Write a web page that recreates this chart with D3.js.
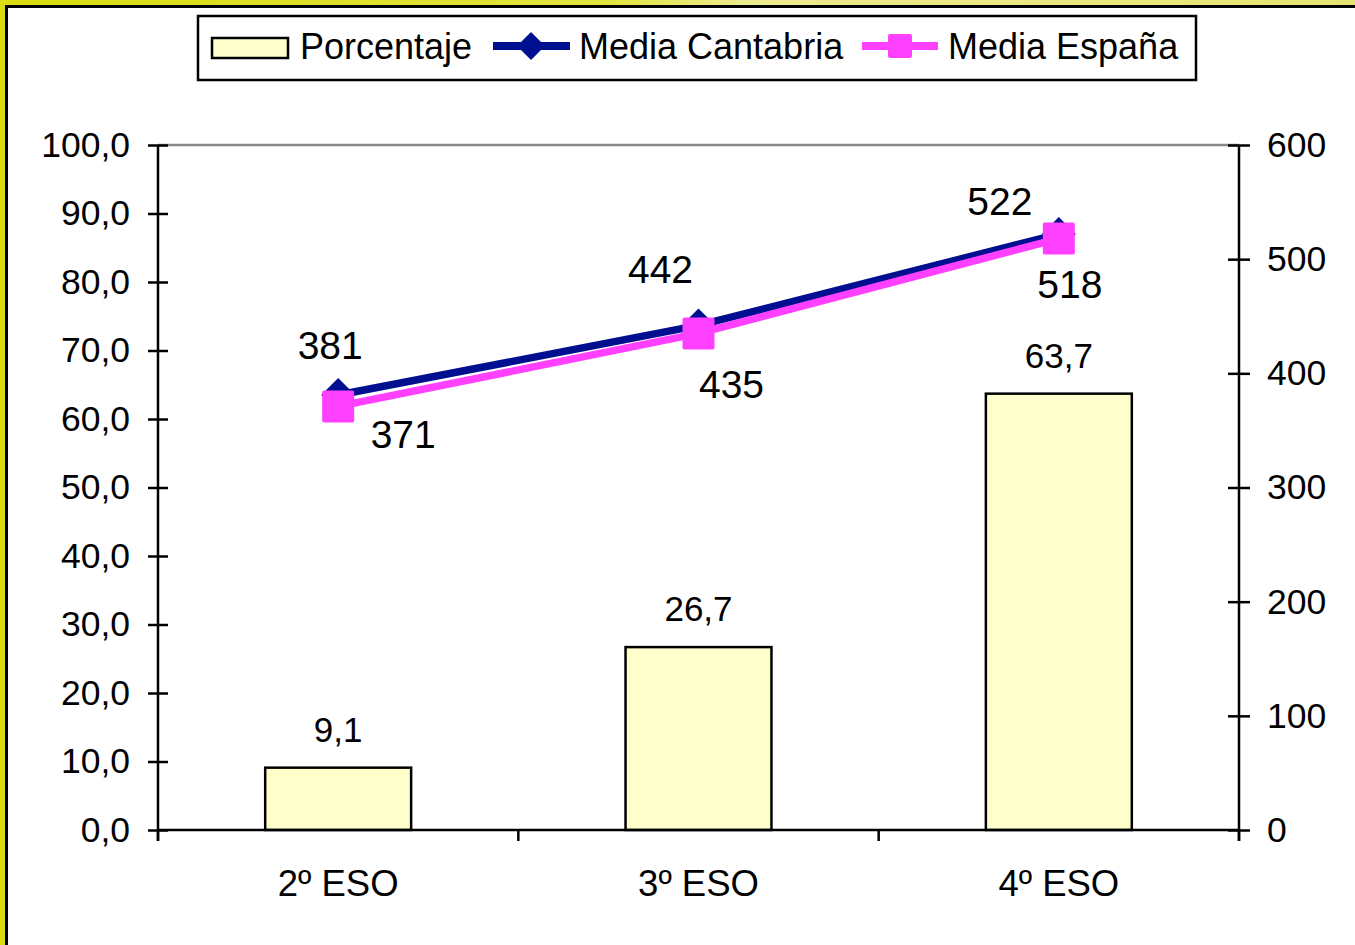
<!DOCTYPE html>
<html>
<head>
<meta charset="utf-8">
<script src="https://cdn.jsdelivr.net/npm/d3@7/dist/d3.min.js"></script>
<style>
  html, body { margin: 0; padding: 0; background: #fff; }
  svg { display: block; font-family: "Liberation Sans", Arial, sans-serif; }
</style>
</head>
<body>
<svg id="chart" width="1355" height="945"></svg>
<script>
// ---- data ----
const categories = ["2º ESO", "3º ESO", "4º ESO"];
const porcentaje = [9.1, 26.7, 63.7];
const mediaCantabria = [381, 442, 522];
const mediaEspana = [371, 435, 518];
const leftTicks = [0, 10, 20, 30, 40, 50, 60, 70, 80, 90, 100];
const rightTicks = [0, 100, 200, 300, 400, 500, 600];
const seriesNames = ["Porcentaje", "Media Cantabria", "Media España"];

// ---- layout ----
const W = 1355, H = 945;
const plot = { left: 158, right: 1239, top: 145, bottom: 830 };
const colNavy = "#000f8f", colMag = "#ff40ff", colBar = "#ffffcc";
// label offsets (layout only)
const cantLabelOff = [[-8, -36], [-38, -42], [-59, -19]];
const espLabelOff = [[65, 42], [33, 65], [11, 59]];

const svg = d3.select("#chart");

// background frame
const defs = svg.append("defs");
const grad = defs.append("linearGradient").attr("id", "yel").attr("x1", 0).attr("y1", 0).attr("x2", 1).attr("y2", 0);
grad.append("stop").attr("offset", "0%").attr("stop-color", "#d8dc10");
grad.append("stop").attr("offset", "45%").attr("stop-color", "#e2e440");
grad.append("stop").attr("offset", "55%").attr("stop-color", "#ecec90");
grad.append("stop").attr("offset", "100%").attr("stop-color", "#e6e470");
svg.append("rect").attr("x", 0).attr("y", 0).attr("width", W).attr("height", H).attr("fill", "url(#yel)");
svg.append("rect").attr("x", 6.5).attr("y", 6.5).attr("width", W + 20).attr("height", H + 20)
  .attr("fill", "#fff").attr("stroke", "#000").attr("stroke-width", 3);

// scales
const x = d3.scaleBand().domain(categories).range([plot.left, plot.right]).paddingInner(0).paddingOuter(0);
const yL = d3.scaleLinear().domain([0, 100]).range([plot.bottom, plot.top]);
const yR = d3.scaleLinear().domain([0, 600]).range([plot.bottom, plot.top]);
const cx = d => x(d) + x.bandwidth() / 2;
const barW = x.bandwidth() * 0.405;

// top plot border (gray)
svg.append("line").attr("x1", plot.left).attr("x2", plot.right).attr("y1", plot.top).attr("y2", plot.top)
  .attr("stroke", "#888").attr("stroke-width", 2.5);

// bars
svg.append("g").selectAll("rect").data(porcentaje).join("rect")
  .attr("x", (d, i) => cx(categories[i]) - barW / 2)
  .attr("y", d => yL(d))
  .attr("width", barW)
  .attr("height", d => yL(0) - yL(d))
  .attr("fill", colBar).attr("stroke", "#000").attr("stroke-width", 2.5);

// bar labels
svg.append("g").selectAll("text").data(porcentaje).join("text")
  .attr("x", (d, i) => cx(categories[i]))
  .attr("y", d => yL(d) - 26)
  .attr("text-anchor", "middle").attr("font-size", 35).attr("fill", "#000")
  .text(d => d3.format(".1f")(d).replace(".", ","));

// left axis
const axL = d3.axisLeft(yL).tickValues(leftTicks).tickSize(0)
  .tickFormat(d => d3.format(".1f")(d).replace(".", ","));
const gL = svg.append("g").attr("transform", `translate(${plot.left},0)`).call(axL);
gL.select(".domain").attr("stroke", "#000").attr("stroke-width", 2.5);
gL.selectAll(".tick text").attr("x", -28).attr("font-size", 35.5).attr("fill", "#000")
  .attr("font-family", "Liberation Sans, Arial, sans-serif");
gL.selectAll(".tick").append("line").attr("x1", -10).attr("x2", 10).attr("stroke", "#000").attr("stroke-width", 2.5);
gL.select(".domain").attr("d", `M0,${plot.top}V${plot.bottom + 11}`);

// right axis
const axR = d3.axisRight(yR).tickValues(rightTicks).tickSize(0);
const gR = svg.append("g").attr("transform", `translate(${plot.right},0)`).call(axR);
gR.select(".domain").attr("stroke", "#000").attr("stroke-width", 2.5).attr("d", `M0,${plot.top}V${plot.bottom + 11}`);
gR.selectAll(".tick text").attr("x", 28).attr("font-size", 35.5).attr("fill", "#000")
  .attr("font-family", "Liberation Sans, Arial, sans-serif");
gR.selectAll(".tick").append("line").attr("x1", -11).attr("x2", 11).attr("stroke", "#000").attr("stroke-width", 2.5);

// bottom axis
const axB = d3.axisBottom(x).tickSize(0);
const gB = svg.append("g").attr("transform", `translate(0,${plot.bottom})`).call(axB);
gB.select(".domain").attr("stroke", "#000").attr("stroke-width", 2.5).attr("d", `M${plot.left},0H${plot.right}`);
gB.selectAll(".tick text").attr("y", 40).attr("dy", "0.71em").attr("font-size", 36.5).attr("fill", "#000")
  .attr("font-family", "Liberation Sans, Arial, sans-serif");
// category boundary ticks
const bounds = categories.map(c => x(c)).concat([plot.right]);
svg.append("g").selectAll("line").data(bounds).join("line")
  .attr("x1", d => d).attr("x2", d => d).attr("y1", plot.bottom).attr("y2", plot.bottom + 11)
  .attr("stroke", "#000").attr("stroke-width", 2.5);

// lines
const lineCant = d3.line().x((d, i) => cx(categories[i])).y(d => yR(d));
svg.append("path").datum(mediaCantabria).attr("d", lineCant).attr("fill", "none")
  .attr("stroke", colNavy).attr("stroke-width", 7.5);
const diamond = (s) => `M0,${-s}L${s},0L0,${s}L${-s},0Z`;
svg.append("g").selectAll("path").data(mediaCantabria).join("path")
  .attr("transform", (d, i) => `translate(${cx(categories[i])},${yR(d)})`)
  .attr("d", diamond(17)).attr("fill", colNavy);

svg.append("path").datum(mediaEspana).attr("d", lineCant).attr("fill", "none")
  .attr("stroke", colMag).attr("stroke-width", 7.5);
svg.append("g").selectAll("rect").data(mediaEspana).join("rect")
  .attr("x", (d, i) => cx(categories[i]) - 16).attr("y", d => yR(d) - 16)
  .attr("width", 32).attr("height", 32).attr("rx", 2).attr("fill", colMag);

// line labels
svg.append("g").selectAll("text").data(mediaCantabria).join("text")
  .attr("x", (d, i) => cx(categories[i]) + cantLabelOff[i][0])
  .attr("y", (d, i) => yR(d) + cantLabelOff[i][1])
  .attr("text-anchor", "middle").attr("font-size", 39).attr("fill", "#000").text(d => d);
svg.append("g").selectAll("text").data(mediaEspana).join("text")
  .attr("x", (d, i) => cx(categories[i]) + espLabelOff[i][0])
  .attr("y", (d, i) => yR(d) + espLabelOff[i][1])
  .attr("text-anchor", "middle").attr("font-size", 39).attr("fill", "#000").text(d => d);

// legend
const lg = svg.append("g");
lg.append("rect").attr("x", 198).attr("y", 16).attr("width", 998).attr("height", 64)
  .attr("fill", "#fff").attr("stroke", "#000").attr("stroke-width", 2.5);
// Porcentaje swatch
lg.append("rect").attr("x", 212).attr("y", 38).attr("width", 76).attr("height", 20)
  .attr("fill", colBar).attr("stroke", "#000").attr("stroke-width", 2.5);
lg.append("text").attr("x", 300).attr("y", 59).attr("font-size", 36).text(seriesNames[0]);
// Cantabria swatch
lg.append("line").attr("x1", 493).attr("x2", 570).attr("y1", 46).attr("y2", 46).attr("stroke", colNavy).attr("stroke-width", 8);
lg.append("path").attr("transform", "translate(531,46)").attr("d", diamond(14)).attr("fill", colNavy);
lg.append("text").attr("x", 579).attr("y", 59).attr("font-size", 36).text(seriesNames[1]);
// España swatch
lg.append("line").attr("x1", 862).attr("x2", 938).attr("y1", 46).attr("y2", 46).attr("stroke", colMag).attr("stroke-width", 8);
lg.append("rect").attr("x", 888).attr("y", 34).attr("width", 24).attr("height", 24).attr("rx", 2).attr("fill", colMag);
lg.append("text").attr("x", 948).attr("y", 59).attr("font-size", 36).text(seriesNames[2]);
</script>
</body>
</html>
